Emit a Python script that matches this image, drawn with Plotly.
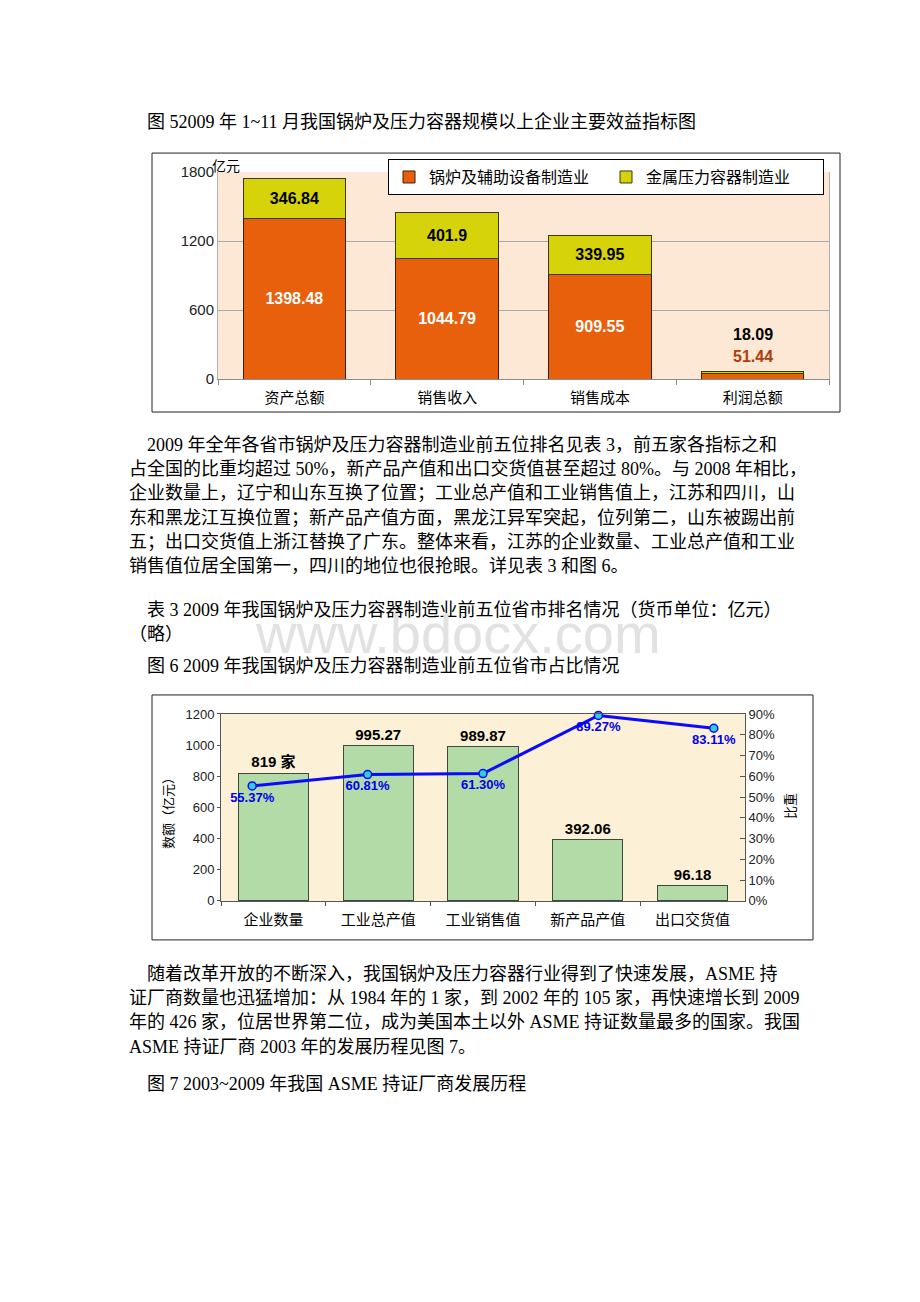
import plotly.graph_objects as go

# ---------------- data ----------------
cats1 = ["资产总额", "销售收入", "销售成本", "利润总额"]
boiler_name = "锅炉及辅助设备制造业"
vessel_name = "金属压力容器制造业"
boiler = [1398.48, 1044.79, 909.55, 51.44]
vessel = [346.84, 401.9, 339.95, 18.09]
y1_ticks = [0, 600, 1200, 1800]

cats2 = ["企业数量", "工业总产值", "工业销售值", "新产品产值", "出口交货值"]
values2 = [819, 995.27, 989.87, 392.06, 96.18]
value_labels2 = ["819 家", "995.27", "989.87", "392.06", "96.18"]
share2 = [55.37, 60.81, 61.30, 89.27, 83.11]
share_labels2 = ["55.37%", "60.81%", "61.30%", "89.27%", "83.11%"]

title5 = "图 52009 年 1~11 月我国锅炉及压力容器规模以上企业主要效益指标图"
para1 = [
    "2009 年全年各省市锅炉及压力容器制造业前五位排名见表 3，前五家各指标之和",
    "占全国的比重均超过 50%，新产品产值和出口交货值甚至超过 80%。与 2008 年相比，",
    "企业数量上，辽宁和山东互换了位置；工业总产值和工业销售值上，江苏和四川，山",
    "东和黑龙江互换位置；新产品产值方面，黑龙江异军突起，位列第二，山东被踢出前",
    "五；出口交货值上浙江替换了广东。整体来看，江苏的企业数量、工业总产值和工业",
    "销售值位居全国第一，四川的地位也很抢眼。详见表 3 和图 6。",
]
table3 = "表 3 2009 年我国锅炉及压力容器制造业前五位省市排名情况（货币单位：亿元）"
table3b = "（略）"
title6 = "图 6 2009 年我国锅炉及压力容器制造业前五位省市占比情况"
para2 = [
    "随着改革开放的不断深入，我国锅炉及压力容器行业得到了快速发展，ASME 持",
    "证厂商数量也迅猛增加：从 1984 年的 1 家，到 2002 年的 105 家，再快速增长到 2009",
    "年的 426 家，位居世界第二位，成为美国本土以外 ASME 持证数量最多的国家。我国",
    "ASME 持证厂商 2003 年的发展历程见图 7。",
]
title7 = "图 7 2003~2009 年我国 ASME 持证厂商发展历程"
watermark = "www.bdocx.com"

# ---------------- helpers ----------------
OFF = 8
W, H = 920 - 2 * OFF, 1302 - 2 * OFF
VA, VS = 9.0, 0.987   # observed vertical mapping of page px to picture px
def px(x):
    return (x - OFF) / W
def py(y):
    page = (y - VA) / VS
    return 1 - (page - OFF) / H

SANS = "Liberation Sans, Arial, Noto Sans CJK SC"
SERIF = "Liberation Serif, Times New Roman, Noto Sans CJK SC"

fig = go.Figure()

# ---------------- chart 1 ----------------
n1 = len(cats1)
fig.add_trace(go.Bar(
    x=cats1, y=boiler, name=boiler_name,
    marker=dict(color="#e8600c", line=dict(color="#3a2010", width=1)),
    text=[str(v) if i < n1 - 1 else "" for i, v in enumerate(boiler)],
    textposition="inside", insidetextanchor="middle",
    textfont=dict(color="white", size=16, family="Liberation Sans, Arial"),
    texttemplate="<b>%{text}</b>",
    xaxis="x", yaxis="y", hoverinfo="skip",
))
fig.add_trace(go.Bar(
    x=cats1, y=vessel, name=vessel_name,
    marker=dict(color="#d6d30a", line=dict(color="#3a3a10", width=1)),
    text=[str(v) if i < n1 - 1 else "" for i, v in enumerate(vessel)],
    textposition="inside", insidetextanchor="middle",
    textfont=dict(color="black", size=16, family="Liberation Sans, Arial"),
    texttemplate="<b>%{text}</b>",
    xaxis="x", yaxis="y", hoverinfo="skip",
))

# ---------------- chart 2 ----------------
fig.add_trace(go.Bar(
    x=cats2, y=values2, showlegend=False,
    marker=dict(color="#b2dba8", line=dict(color="#3f4a3f", width=1)),
    text=value_labels2, textposition="outside",
    texttemplate="<b>%{text}</b>",
    textfont=dict(color="black", size=15, family="Liberation Sans, Arial, Noto Sans CJK SC"),
    cliponaxis=False, xaxis="x2", yaxis="y2", hoverinfo="skip",
))
fig.add_trace(go.Scatter(
    x=cats2, y=share2, mode="lines+markers+text", showlegend=False,
    line=dict(color="#0a0aff", width=3),
    marker=dict(size=8, color="#33cccc", line=dict(color="#0a0aff", width=1.5)),
    text=share_labels2, textposition="bottom center",
    texttemplate="<b>%{text}</b>",
    textfont=dict(color="#0000ee", size=13, family="Liberation Sans, Arial"),
    cliponaxis=False, xaxis="x3", yaxis="y3", hoverinfo="skip",
))

# ---------------- layout ----------------
ann = []
def text_line(s, x, y, size=18, color="black", family=SERIF):
    ann.append(dict(text=s, x=px(x), y=py(y), xref="paper", yref="paper",
                    xanchor="left", yanchor="middle", showarrow=False,
                    font=dict(size=size, color=color, family=family)))

text_line(title5, 145, 122)
for i, s in enumerate(para1):
    text_line(s, 145 if i == 0 else 127, 445 + 24.2 * i)
text_line(table3, 145, 610)
text_line(table3b, 127, 634)
text_line(title6, 145, 666)
for i, s in enumerate(para2):
    text_line(s, 145 if i == 0 else 127, 974 + 24.3 * i)
text_line(title7, 145, 1084)

# watermark
ann.append(dict(text=watermark, x=px(458), y=py(634), xref="paper", yref="paper",
                xanchor="center", yanchor="middle", showarrow=False,
                font=dict(size=56, color="#e2e2e2", family=SANS)))

# chart 1 unit label
ann.append(dict(text="亿元", x=px(210), y=py(166), xref="paper", yref="paper",
                xanchor="left", yanchor="middle", showarrow=False,
                font=dict(size=14, color="black", family=SANS)))
# chart 1 small-value labels above last bar
top_last = boiler[-1] + vessel[-1]
ann.append(dict(text="<b>%s</b>" % boiler[-1], x=cats1[-1], y=top_last, xref="x", yref="y",
                xanchor="center", yanchor="middle", yshift=15, showarrow=False,
                font=dict(size=16, color="#b03c08", family="Liberation Sans, Arial")))
ann.append(dict(text="<b>%s</b>" % vessel[-1], x=cats1[-1], y=top_last, xref="x", yref="y",
                xanchor="center", yanchor="middle", yshift=37, showarrow=False,
                font=dict(size=16, color="black", family="Liberation Sans, Arial")))

# chart 2 axis titles
ann.append(dict(text="数额（亿元）", x=px(169), y=py(810), xref="paper", yref="paper",
                xanchor="center", yanchor="middle", textangle=-90, showarrow=False,
                font=dict(size=13, color="black", family=SANS)))
ann.append(dict(text="比重", x=px(791), y=py(806), xref="paper", yref="paper",
                xanchor="center", yanchor="middle", textangle=-90, showarrow=False,
                font=dict(size=13, color="black", family=SANS)))

shapes = [
    dict(type="rect", xref="x domain", yref="y domain", x0=0, x1=1, y0=0, y1=1,
         fillcolor="#fce8d4", line=dict(width=0), layer="below"),
    dict(type="rect", xref="x2 domain", yref="y2 domain", x0=0, x1=1, y0=0, y1=1,
         fillcolor="#fcf1d6", line=dict(width=0), layer="below"),
    dict(type="rect", xref="paper", yref="paper", x0=px(152), x1=px(840), y0=py(412), y1=py(153),
         line=dict(color="#222222", width=1), fillcolor="rgba(0,0,0,0)"),
    dict(type="rect", xref="paper", yref="paper", x0=px(152), x1=px(813), y0=py(940), y1=py(695),
         line=dict(color="#222222", width=1), fillcolor="rgba(0,0,0,0)"),
]

d1x = [px(218), px(829)]
d1y = [py(379), py(172)]
d2x = [px(221), px(745)]
d2y = [py(901), py(714)]

fig.update_layout(
    width=W, height=H, margin=dict(l=0, r=0, t=0, b=0),
    paper_bgcolor="white", plot_bgcolor="rgba(0,0,0,0)",
    barmode="stack", bargap=0.33,
    font=dict(family=SANS, color="black"),
    annotations=ann, shapes=shapes,
    legend=dict(x=px(388), y=py(159), xanchor="left", yanchor="top",
                orientation="h", bgcolor="white", bordercolor="black", borderwidth=1,
                font=dict(size=16, family=SANS, color="black"),
                traceorder="normal", entrywidth=172, entrywidthmode="pixels"),
    xaxis=dict(domain=d1x, anchor="y", type="category", showline=True, linecolor="#8c8c8c",
               ticks="outside", tickson="boundaries", ticklen=5, tickcolor="#8c8c8c",
               ticklabelstandoff=5,
               tickfont=dict(size=15, family=SANS, color="black"), fixedrange=True),
    yaxis=dict(domain=d1y, anchor="x", range=[0, 1800], tickvals=y1_ticks,
               showgrid=True, gridcolor="#a8a8a8", gridwidth=1, zeroline=False,
               showline=True, linecolor="#b0b0b0", mirror=True, ticks="",
               tickfont=dict(size=15, family=SANS, color="#222"), fixedrange=True),
    xaxis2=dict(domain=d2x, anchor="y2", type="category", showline=True, linecolor="#555",
                mirror=True, ticks="outside", tickson="boundaries", ticklen=4, tickcolor="#555",
                ticklabelstandoff=5,
                tickfont=dict(size=15, family=SANS, color="black"), fixedrange=True),
    yaxis2=dict(domain=d2y, anchor="x2", range=[0, 1200], dtick=200, showgrid=False,
                zeroline=False, showline=True, linecolor="#555", ticks="outside", ticklen=3,
                tickcolor="#555", tickfont=dict(size=13, family=SANS, color="#222"),
                fixedrange=True),
    xaxis3=dict(domain=d2x, anchor="y3", type="category", overlaying="x2", visible=False,
                fixedrange=True),
    yaxis3=dict(domain=d2y, anchor="x3", overlaying="y2", side="right", range=[0, 90], dtick=10,
                ticksuffix="%", showgrid=False, zeroline=False, showline=True, linecolor="#555",
                ticks="inside", ticklen=5, tickcolor="#555",
                tickfont=dict(size=13, family=SANS, color="#222"), fixedrange=True),
)

fig.write_html("out.html")
